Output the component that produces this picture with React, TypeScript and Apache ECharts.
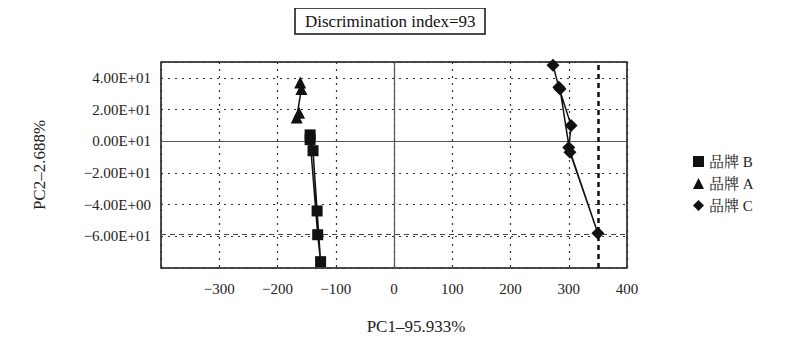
import React, { useEffect, useRef } from "react";
import * as echarts from "echarts";

const seriesNames = ["品牌 B", "品牌 A", "品牌 C"];
const brandB: number[][] = [[-144, 4], [-139, -6], [-132, -44], [-126, -76], [-131, -59], [-144, 1]];
const brandA: number[][] = [[-161, 37], [-159, 33], [-167, 15], [-163, 18]];
const brandC: number[][] = [[273, 48], [283, 34], [304, 10], [300, -4], [350, -58], [302, -7], [285, 33]];
const yTickLabels: Record<string, string> = {
  "40": "4.00E+01",
  "20": "2.00E+01",
  "0": "0.00E+01",
  "-20": "−2.00E+01",
  "-40": "−4.00E+00",
  "-60": "−6.00E+01",
};
const xTickValues = [-300, -200, -100, 0, 100, 200, 300, 400];
const refX = 350;
const refY = -59;

const FONT = "'Liberation Serif', 'DejaVu Serif', 'Noto Serif CJK SC', 'Noto Sans CJK SC', serif";

export default function App() {
  const ref = useRef<HTMLDivElement>(null);
  useEffect(() => {
    if (!ref.current) return;
    const chart = echarts.init(ref.current, undefined, { renderer: "svg" });
    const mkSeries = (name: string, data: number[][], symbol: string, size: number, extra: any = {}) => ({
      name,
      type: "line",
      data,
      symbol,
      symbolSize: size,
      itemStyle: { color: "#111" },
      lineStyle: { color: "#111", width: 1.5 },
      z: 5,
      ...extra,
    });
    chart.setOption({
      animation: false,
      backgroundColor: "#fff",
      textStyle: { fontFamily: FONT },
      title: {
        text: "Discrimination index=93",
        left: 295,
        top: 8,
        borderColor: "#111",
        borderWidth: 1.5,
        padding: [5, 10, 4, 10],
        textStyle: { fontFamily: FONT, fontSize: 17, fontWeight: "normal", color: "#111" },
      },
      legend: {
        orient: "vertical",
        left: 688,
        top: 149,
        itemGap: 7,
        itemWidth: 11,
        itemHeight: 11,
        textStyle: { fontFamily: FONT, fontSize: 15, color: "#222" },
        data: [
          { name: seriesNames[0], icon: "rect" },
          { name: seriesNames[1], icon: "triangle" },
          { name: seriesNames[2], icon: "diamond" },
        ],
      },
      grid: {
        left: 161,
        right: 173,
        top: 62,
        bottom: 96,
        show: true,
        borderColor: "#111",
        borderWidth: 1.5,
        containLabel: false,
      },
      xAxis: {
        type: "value",
        min: -400,
        max: 400,
        interval: 100,
        name: "PC1–95.933%",
        nameLocation: "middle",
        nameGap: 50,
        nameTextStyle: { fontFamily: FONT, fontSize: 17, color: "#222", padding: [0, 0, 0, 44] },
        axisLine: { onZero: false, show: false },
        axisTick: { show: false },
        axisLabel: {
          fontFamily: FONT,
          fontSize: 15,
          color: "#222",
          margin: 13,
          formatter: (v: number) => (xTickValues.includes(v) ? String(v).replace("-", "−") : ""),
        },
        splitLine: { show: true, lineStyle: { type: [2, 5], color: "#333", width: 1.2 } },
      },
      yAxis: {
        type: "value",
        min: -80,
        max: 50,
        interval: 20,
        name: "PC2–2.688%",
        nameLocation: "middle",
        nameGap: 113,
        nameTextStyle: { fontFamily: FONT, fontSize: 17, color: "#222" },
        axisLine: { onZero: false, show: false },
        axisTick: { show: false },
        axisLabel: {
          fontFamily: FONT,
          fontSize: 15,
          color: "#222",
          margin: 10,
          formatter: (v: number) => yTickLabels[String(v)] ?? "",
        },
        splitLine: { show: true, lineStyle: { type: [2, 5], color: "#333", width: 1.2 } },
      },
      series: [
        mkSeries(seriesNames[0], brandB, "rect", 11, {
          markLine: {
            silent: true,
            symbol: "none",
            label: { show: false },
            lineStyle: { type: "solid", color: "#555", width: 1.2 },
            data: [{ xAxis: 0 }, { yAxis: 0 }],
            z: 2,
          },
        }),
        mkSeries(seriesNames[1], brandA, "triangle", 12),
        mkSeries(seriesNames[2], brandC, "diamond", 13, {
          markLine: {
            silent: true,
            symbol: "none",
            label: { show: false },
            data: [
              { xAxis: refX, lineStyle: { type: [5, 4], color: "#111", width: 2.5 } },
              { yAxis: refY, lineStyle: { type: [5, 4], color: "#444", width: 1 } },
            ],
            z: 2,
          },
        }),
      ],
    });
    return () => chart.dispose();
  }, []);
  return <div ref={ref} style={{ width: 800, height: 364, margin: -8 }} />;
}
